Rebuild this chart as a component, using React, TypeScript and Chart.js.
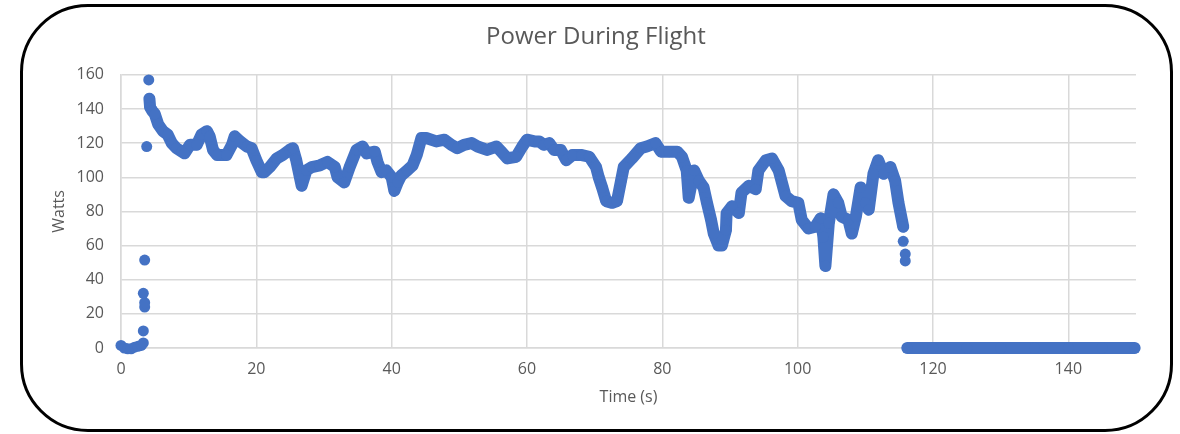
import React, { useEffect, useRef } from "react";
import { Chart, registerables } from "chart.js";

Chart.register(...registerables);

const CHART_TITLE = "Power During Flight";
const X_TITLE = "Time (s)";
const Y_TITLE = "Watts";

// Ground samples before take-off (s, W)
const groundTimes = [0, 0.5, 1.0, 1.5, 2.0, 2.5, 3.0, 3.3];
const groundWatts = [1.5, 0, -0.5, -0.5, 0.5, 1, 1.5, 3];

// Spin-up samples (isolated points)
const spinTimes = [3.3, 3.5, 3.5, 3.3, 3.5, 3.8, 4.1];
const spinWatts = [10, 24, 26.5, 32, 51.5, 118, 157];

// Flight samples
const flightTimes = [
  4.2, 4.3, 4.6, 5.0, 5.5, 6.2, 6.9, 7.5, 8.2, 9.0, 9.4, 10.2, 11.2, 11.9, 12.7, 13.1, 13.6, 14.2, 15.6,
  16.4, 16.8, 17.6, 18.6, 19.3, 20.0, 20.8, 21.2, 22.0, 23.0, 23.9, 24.9, 25.4, 25.9, 26.7, 27.4, 28.2,
  29.4, 30.5, 31.6, 32.0, 33.0, 33.8, 34.8, 35.7, 36.3, 37.5, 37.9, 38.5, 39.2, 40.0, 40.4, 40.9, 41.4,
  42.3, 43.1, 43.7, 44.4, 45.1, 46.6, 47.8, 48.8, 49.7, 50.7, 51.8, 52.7, 54.1, 55.5, 56.2, 57.1, 58.4,
  59.3, 60.0, 61.1, 61.8, 62.5, 63.3, 64.0, 65.0, 65.8, 66.7, 68.1, 69.2, 70.2, 70.6, 71.1, 71.7, 72.6,
  73.3, 73.9, 74.3, 75.5, 76.8, 77.7, 79.0, 79.8, 81.0, 82.2, 82.9, 83.6, 83.9, 84.7, 85.4, 86.1, 86.6,
  87.2, 87.6, 88.3, 88.8, 89.4, 89.5, 90.3, 91.3, 91.7, 92.8, 93.8, 94.2, 95.3, 96.2, 97.2, 98.2, 99.1,
  100.1, 100.6, 101.6, 102.6, 103.4, 103.8, 104.1, 104.6, 105.3, 106.0, 106.5, 107.5, 108.0, 108.6,
  109.3, 110.0, 110.5, 111.2, 111.9, 112.7, 113.7, 114.4, 114.9, 115.6,
];
const flightWatts = [
  146, 141, 139, 137, 131, 127, 125, 120, 117, 115, 114, 119, 119, 125, 127, 124, 116, 113, 113,
  119, 124, 121, 118, 117, 110, 103, 103, 106, 111, 113, 116, 117, 110, 95, 104, 106,
  107, 109, 106, 100, 97, 106, 116, 118, 114, 115, 109, 103, 104, 100, 92, 97, 101,
  104, 107, 113, 123, 123, 121, 122, 119, 117, 119, 120, 118, 116, 118, 115, 111, 112,
  118, 122, 121, 121, 119, 120, 116, 116, 110, 113, 113, 112, 106, 100, 94, 86, 85,
  86, 98, 106, 111, 117, 118, 120, 115, 115, 115, 112, 104, 88, 104, 98, 94, 85,
  75, 67, 60, 60, 69, 79, 83, 79, 91, 95, 93, 104, 110, 111, 104, 89, 86,
  85, 75, 70, 71, 76, 65, 48, 73, 90, 85, 77, 75, 67, 77,
  94, 85, 81, 102, 110, 102, 106, 98, 85, 71,
];

// Landing samples (isolated points)
const landingTimes = [115.6, 115.9, 115.9];
const landingWatts = [62.5, 55, 51];

// After landing
const restTimes = [116.2, 120, 125, 130, 135, 140, 145, 149.8];
const restWatts = [0, 0, 0, 0, 0, 0, 0, 0];

const xTicks = [0, 20, 40, 60, 80, 100, 120, 140];
const yTicks = [0, 20, 40, 60, 80, 100, 120, 140, 160];

const BLUE = "#4472C4";
const GRAY_TEXT = "#595959";
const GRID = "#d9d9d9";
const FONT = "'Open Sans', sans-serif";

const toPts = (xs: number[], ys: number[]) => xs.map((x, i) => ({ x, y: ys[i] }));

export default function App() {
  const ref = useRef<HTMLCanvasElement | null>(null);

  useEffect(() => {
    if (!ref.current) return;
    const pointDs = (data: { x: number; y: number }[], line: boolean) => ({
      data,
      showLine: line,
      borderColor: BLUE,
      backgroundColor: BLUE,
      borderWidth: line ? 12 : 0,
      borderCapStyle: "round" as const,
      borderJoinStyle: "round" as const,
      pointRadius: 5.5,
      pointBorderWidth: 0,
      pointBackgroundColor: BLUE,
      pointHoverRadius: 5.5,
      tension: 0,
      clip: false as const,
    });
    const chart = new Chart(ref.current, {
      type: "scatter",
      data: {
        datasets: [
          pointDs(toPts(groundTimes, groundWatts), false),
          pointDs(toPts(spinTimes, spinWatts), false),
          pointDs(toPts(flightTimes, flightWatts), true),
          pointDs(toPts(landingTimes, landingWatts), false),
          pointDs(toPts(restTimes, restWatts), true),
        ] as any,
      },
      options: {
        responsive: false,
        animation: false,
        events: [],
        layout: { padding: { left: 12, right: 0, top: 0, bottom: 0 } },
        plugins: {
          legend: { display: false },
          tooltip: { enabled: false },
          title: {
            display: true,
            text: CHART_TITLE,
            color: GRAY_TEXT,
            font: { family: FONT, size: 24, weight: "normal" },
            padding: { top: 23, bottom: 23 },
          },
        },
        scales: {
          x: {
            type: "linear",
            min: 0,
            max: 150,
            afterBuildTicks: (s: any) => {
              s.ticks = xTicks.map((v) => ({ value: v }));
            },
            afterFit: (s: any) => {
              s.height = 86;
              s.paddingRight = 44;
            },
            ticks: {
              color: GRAY_TEXT,
              font: { family: FONT, size: 16 },
              padding: 12,
              maxRotation: 0,
              autoSkip: false,
            },
            grid: { color: GRID, lineWidth: 1.5, drawTicks: false },
            border: { color: GRID, width: 1.5 },
            title: {
              display: true,
              text: X_TITLE,
              color: GRAY_TEXT,
              font: { family: FONT, size: 16 },
              padding: { top: 0, bottom: 27 },
            },
          },
          y: {
            type: "linear",
            min: 0,
            max: 160,
            afterBuildTicks: (s: any) => {
              s.ticks = yTicks.map((v) => ({ value: v }));
            },
            afterFit: (s: any) => {
              s.width = 109;
            },
            ticks: {
              color: GRAY_TEXT,
              font: { family: FONT, size: 16 },
              padding: 17,
              autoSkip: false,
            },
            grid: { color: GRID, lineWidth: 1.5, drawTicks: false },
            border: { color: GRID, width: 1.5 },
            title: {
              display: true,
              text: Y_TITLE,
              color: GRAY_TEXT,
              font: { family: FONT, size: 16 },
              padding: { top: 38, bottom: 0 },
            },
          },
        },
      },
    });
    return () => chart.destroy();
  }, []);

  return (
    <div style={{ position: "fixed", left: 0, top: 0, width: 1180, height: 434, background: "#fff" }}>
      <canvas ref={ref} width={1180} height={434} style={{ position: "absolute", left: 0, top: 0 }} />
      <div
        style={{
          position: "absolute",
          left: 20,
          top: 4,
          width: 1153,
          height: 428,
          border: "3px solid #000",
          borderRadius: 68,
          boxSizing: "border-box",
          pointerEvents: "none",
        }}
      />
    </div>
  );
}
